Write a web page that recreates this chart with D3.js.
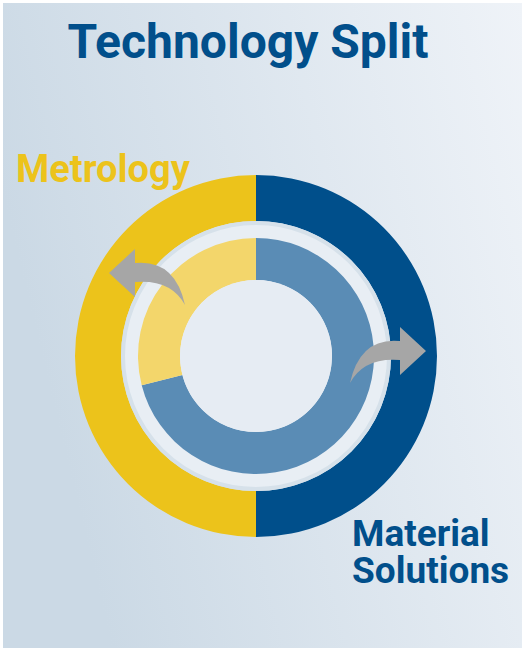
<!DOCTYPE html>
<html lang="en">
<head>
  <meta charset="UTF-8">
  <title>Technology Split</title>
  <script src="https://d3js.org/d3.v7.min.js"></script>
  <style>
    body { margin: 0; background: #ffffff; overflow: hidden; }
    svg { display: block; }
    text { font-family: Roboto, "Liberation Sans", sans-serif; font-weight: 700; }
  </style>
</head>
<body>
  <svg id="chart" width="525" height="650"></svg>
  <script>
    // data
    const segments = ["Material Solutions", "Metrology"];
    const outerValues = [50, 50];
    const innerValues = [71, 29];
    const outerColors = ["#004f8b", "#ecc31b"];
    const innerColors = ["#5a8cb5", "#f3d66b"];

    const width = 525, height = 650;
    const cx = 256, cy = 356;

    const svg = d3.select("#chart");
    const defs = svg.append("defs");

    const bg = defs.append("linearGradient")
      .attr("id", "bg").attr("x1", "0").attr("y1", "0.3").attr("x2", "1").attr("y2", "0");
    bg.append("stop").attr("offset", "0").attr("stop-color", "#cbd9e5");
    bg.append("stop").attr("offset", "1").attr("stop-color", "#eff3f8");

    svg.append("rect")
      .attr("x", 3).attr("y", 3)
      .attr("width", width - 6).attr("height", height - 5)
      .attr("fill", "url(#bg)");

    // title
    svg.append("text")
      .attr("x", 248).attr("y", 58)
      .attr("text-anchor", "middle")
      .attr("font-size", 48)
      .attr("fill", "#014f8b")
      .text("Technology Split");

    const g = svg.append("g").attr("transform", `translate(${cx},${cy})`);

    const pie = d3.pie().sort(null).value(d => d);

    // outer ring
    const outerArc = d3.arc().innerRadius(135).outerRadius(181);
    g.selectAll("path.outer")
      .data(pie(outerValues))
      .enter().append("path")
      .attr("class", "outer")
      .attr("d", outerArc)
      .attr("fill", (d, i) => outerColors[i]);

    // pale separator disc
    g.append("circle").attr("r", 133)
      .attr("fill", "#e8eef4")
      .attr("stroke", "#d6e1ea").attr("stroke-width", 4);

    // inner ring
    const innerArc = d3.arc().innerRadius(76).outerRadius(118);
    g.selectAll("path.inner")
      .data(pie(innerValues))
      .enter().append("path")
      .attr("class", "inner")
      .attr("d", innerArc)
      .attr("fill", (d, i) => innerColors[i]);

    g.append("circle").attr("r", 76).attr("fill", "#e6ecf3");

    // curved arrows (tail at origin, pointing right)
    const arrow = d3.path();
    arrow.moveTo(0, 0);
    arrow.quadraticCurveTo(10, -46, 50, -42);
    arrow.lineTo(50, -56);
    arrow.lineTo(76, -32);
    arrow.lineTo(50, -8);
    arrow.lineTo(50, -23);
    arrow.quadraticCurveTo(14, -26, 0, 0);
    arrow.closePath();

    g.append("path")
      .attr("d", arrow.toString())
      .attr("fill", "#a6a6a6")
      .attr("transform", "translate(94,27)");

    g.append("path")
      .attr("d", arrow.toString())
      .attr("fill", "#a6a6a6")
      .attr("transform", "translate(-71,-51) scale(-1,1)");

    // labels
    svg.append("text")
      .attr("x", 16).attr("y", 182)
      .attr("font-size", 38)
      .attr("fill", "#ecc31b")
      .text(segments[1]);

    segments[0].split(" ").forEach((w, i) => {
      svg.append("text")
        .attr("x", 352).attr("y", 546 + i * 37)
        .attr("font-size", 37)
        .attr("fill", "#014f8b")
        .text(w);
    });
  </script>
</body>
</html>
